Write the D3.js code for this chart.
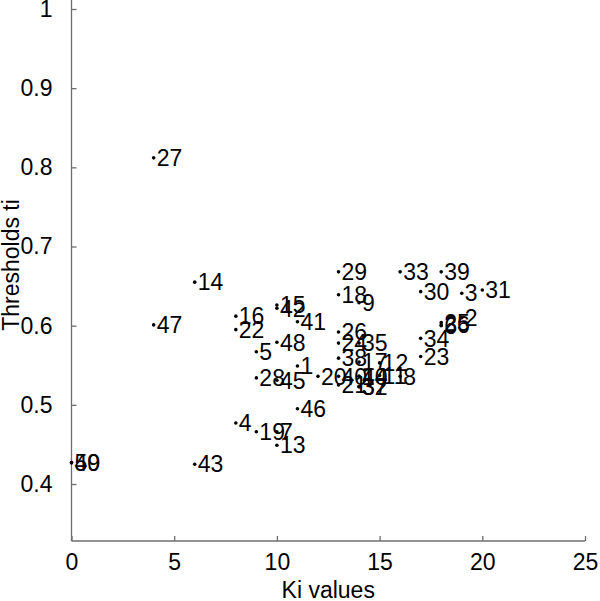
<!DOCTYPE html>
<html><head><meta charset="utf-8">
<script src="https://cdn.jsdelivr.net/npm/d3@7"></script>
<style>body{margin:0;background:#fff}text{font-family:"Liberation Sans",Arial,sans-serif}</style>
</head><body>
<svg id="c" width="600" height="601"></svg>
<script>
const labels     = ["1","2","3","4","5","6","7","8","9","10","11","12","13","14","15","16","17","18","19","20","21","22","23","24","25","26","27","28","29","30","31","32","33","34","35","36","37","38","39","40","41","42","43","44","45","46","47","48","49","50"];
const kiValues   = [11,19,19,8,9,18,10,16,14,14,15,15,10,6,10,8,14,13,9,12,13,8,17,13,18,13,4,9,13,17,20,14,16,17,14,18,14,13,18,13,11,10,6,14,10,11,4,10,0,0];
const thresholds = [0.549,0.610,0.641,0.477,0.567,0.600,0.466,0.536,0.629,0.536,0.537,0.553,0.449,0.655,0.626,0.612,0.554,0.639,0.466,0.536,0.525,0.595,0.561,0.578,0.604,0.592,0.812,0.534,0.668,0.643,0.645,0.523,0.668,0.584,0.578,0.601,0.523,0.559,0.668,0.536,0.605,0.622,0.425,0.536,0.531,0.495,0.601,0.579,0.427,0.427];
const xTicks = [0,5,10,15,20,25];
const yTicks = [0.4,0.5,0.6,0.7,0.8,0.9,1];
const xTitle = "Ki values";
const yTitle = "Thresholds ti";

const FS = 23;
const svg = d3.select("#c");
const x = d3.scaleLinear().domain([0,25]).range([71.5,585]);
const y = d3.scaleLinear().domain([0.4,1]).range([484,9]);
const yBottom = 541;
const axisColor = "#6e6e6e";

const gx = svg.append("g").attr("transform",`translate(0,${yBottom})`)
  .call(d3.axisBottom(x).tickValues(xTicks).tickSizeInner(-5).tickSizeOuter(0).tickPadding(13).tickFormat(d3.format("d")));
const gy = svg.append("g").attr("transform",`translate(${x(0)},0)`)
  .call(d3.axisLeft(y).tickValues(yTicks).tickSizeInner(-5).tickSizeOuter(0).tickPadding(19).tickFormat(d=>d===1?"1":d3.format(".1f")(d)));
gy.select(".domain").attr("d",`M0,0V${yBottom}`);
gx.select(".domain").attr("d",`M${x(0)},0H${x(25)}`);
[gx,gy].forEach(g=>{
  g.selectAll(".domain,line").attr("stroke",axisColor).attr("stroke-width",1.3);
  g.selectAll("text").attr("font-size",FS).attr("fill","#000").attr("font-family","'Liberation Sans',Arial,sans-serif");
});

svg.append("text").attr("x",(x(0)+x(25))/2).attr("y",598).attr("text-anchor","middle")
  .attr("font-size",FS).text(xTitle);
svg.append("text").attr("transform",`translate(19,${265}) rotate(-90)`).attr("text-anchor","middle")
  .attr("font-size",FS).text(yTitle);

const pts = labels.map((l,i)=>({l,k:kiValues[i],t:thresholds[i]}));
svg.append("g").selectAll("circle").data(pts).join("circle")
  .attr("cx",d=>x(d.k)).attr("cy",d=>y(d.t)).attr("r",1.8).attr("fill","#000");
svg.append("g").selectAll("text").data(pts).join("text")
  .attr("x",d=>x(d.k)+3).attr("y",d=>y(d.t)).attr("dy","0.36em")
  .attr("font-size",FS).attr("fill","#000").text(d=>d.l);
</script>
</body></html>
